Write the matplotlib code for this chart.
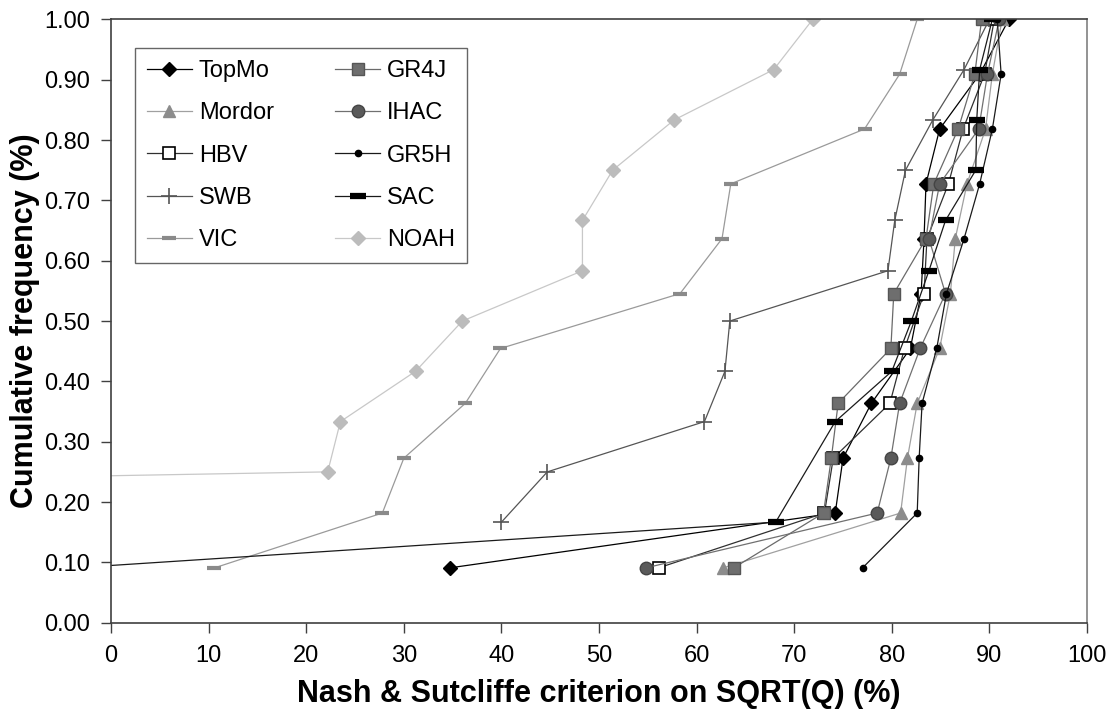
import numpy as np
import matplotlib
matplotlib.use('Agg')
import matplotlib.pyplot as plt

plt.rcParams['font.family'] = ['Liberation Sans', 'DejaVu Sans']

# cumulative frequencies (rank / number of catchments)
freq11 = [0.0909, 0.1818, 0.2727, 0.3636, 0.4545, 0.5455, 0.6364, 0.7273, 0.8182, 0.9091, 1.0]
freq12 = [0.0833, 0.1667, 0.25, 0.3333, 0.4167, 0.5, 0.5833, 0.6667, 0.75, 0.8333, 0.9167, 1.0]
sac_freq = [0.0833, 0.1667, 0.3333, 0.4167, 0.5, 0.5833, 0.6667, 0.75, 0.8333, 0.9167, 1.0]

# Nash-Sutcliffe on sqrt(Q), sorted, per model
topmo = [34.7, 74.2, 75.0, 77.9, 81.9, 83.0, 83.3, 83.5, 84.9, 89.0, 92.0]
gr4j = [63.8, 73.0, 73.8, 74.5, 79.9, 80.2, 83.5, 84.3, 86.8, 88.5, 89.2]
mordor = [62.7, 80.9, 81.6, 82.6, 84.9, 86.0, 86.5, 87.7, 89.6, 90.3, 91.3]
ihac = [54.8, 78.5, 79.9, 80.8, 82.9, 85.5, 83.8, 84.9, 88.9, 89.8, 91.0]
hbv = [56.1, 73.1, 74.0, 79.8, 81.3, 83.3, 83.6, 85.8, 87.3, 89.5, 90.5]
gr5h = [77.0, 82.6, 82.8, 83.1, 84.6, 85.6, 87.4, 89.0, 90.3, 91.2, 90.8]
swb = [np.nan, 40.0, 44.7, 60.8, 62.9, 63.4, 79.6, 80.3, 81.4, 84.2, 87.4, 90.0]
sac = [-11.0, 68.1, 74.2, 80.0, 82.0, 83.8, 85.5, 88.6, 88.7, 89.0, 90.3]
vic = [10.6, 27.8, 30.0, 36.3, 39.9, 58.3, 62.6, 63.5, 77.2, 80.8, 82.6]
noah = [-520.0, -267.0, 22.2, 23.5, 31.2, 36.0, 48.3, 48.3, 51.4, 57.7, 67.9, 71.9]

fig = plt.figure(figsize=(11.18, 7.21), dpi=100)
ax = fig.add_axes([0.0993, 0.1363, 0.873, 0.8369])

lw = 0.9
h_topmo, = ax.plot(topmo, freq11, color='black', lw=lw, marker='D', ms=7, label='TopMo')
h_mordor, = ax.plot(mordor, freq11, color='#a0a0a0', lw=lw, marker='^', ms=8,
                    mfc='#8c8c8c', mec='#8c8c8c', label='Mordor')
h_hbv, = ax.plot(hbv, freq11, color='#303030', lw=lw, marker='s', ms=8,
                 mfc='white', mec='black', mew=1.2, label='HBV')
h_swb, = ax.plot(swb, freq12, color='#555555', lw=lw, marker='+', ms=12, mew=1.2, label='SWB')
h_vic, = ax.plot(vic, freq11, color='#9a9a9a', lw=lw, marker='_', ms=10, mew=3,
                 mec='#8a8a8a', label='VIC')
h_gr4j, = ax.plot(gr4j, freq11, color='#6a6a6a', lw=lw, marker='s', ms=9,
                  mfc='#6e6e6e', mec='#555555', label='GR4J')
h_ihac, = ax.plot(ihac, freq11, color='#707070', lw=lw, marker='o', ms=9,
                  mfc='#5a5a5a', mec='#444444', label='IHAC')
h_gr5h, = ax.plot(gr5h, freq11, color='#1a1a1a', lw=lw, marker='o', ms=4.5,
                  mfc='black', mec='black', label='GR5H')
h_sac, = ax.plot(sac, sac_freq, color='#1a1a1a', lw=lw, marker='_', ms=12, mew=4.5,
                 mec='black', label='SAC')
h_noah, = ax.plot(noah, freq12, color='#c8c8c8', lw=lw, marker='D', ms=7,
                  mfc='#bcbcbc', mec='#bcbcbc', label='NOAH')

ax.set_xlim(0, 100)
ax.set_ylim(0, 1.0)
ax.set_xticks(np.arange(0, 101, 10))
ax.set_yticks(np.arange(0, 1.01, 0.1))
ax.set_yticklabels(['%.2f' % v for v in np.arange(0, 1.01, 0.1)])
ax.tick_params(labelsize=17, length=7, width=1, color='#404040', direction='out')
ax.tick_params(axis='x', pad=9)
ax.tick_params(axis='y', pad=8)
for s in ax.spines.values():
    s.set_color('#404040')
    s.set_linewidth(1.2)
ax.spines['right'].set_color('#808080')

ax.set_xlabel('Nash & Sutcliffe criterion on SQRT(Q) (%)', fontsize=22, fontweight='bold', labelpad=9)
ax.set_ylabel('Cumulative frequency (%)', fontsize=22, fontweight='bold', labelpad=3)

handles = [h_topmo, h_mordor, h_hbv, h_swb, h_vic, h_gr4j, h_ihac, h_gr5h, h_sac, h_noah]
leg = ax.legend(handles=handles, ncol=2, loc='upper left', bbox_to_anchor=(0.0246, 0.952),
                borderaxespad=0, fontsize=17, frameon=True, fancybox=False,
                edgecolor='#404040', labelspacing=0.86, columnspacing=2.6,
                handlelength=1.9, handletextpad=0.3, borderpad=0.5)
leg.get_frame().set_linewidth(1.0)

fig.savefig('out.png', dpi=100)
